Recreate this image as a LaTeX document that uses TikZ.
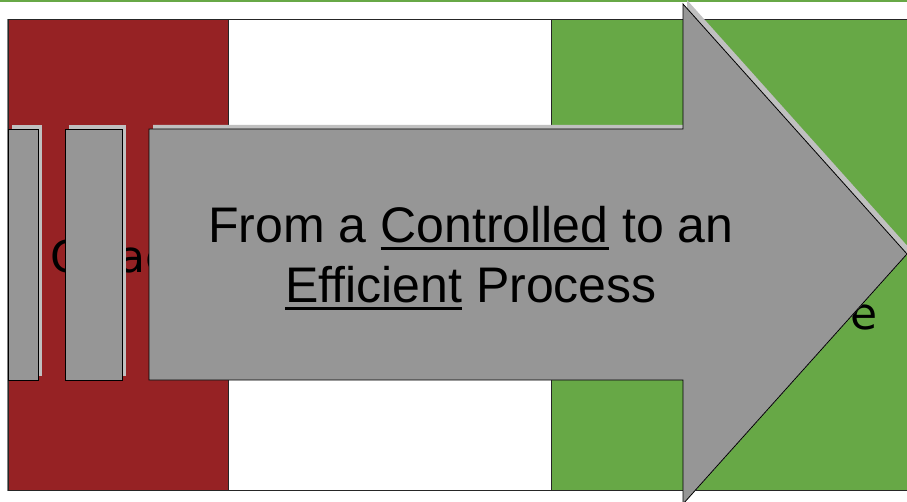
\documentclass[tikz,border=0pt]{standalone}
\usepackage{fontspec}
\setmainfont{Liberation Sans}
\newfontfamily\handfont{DejaVu Sans}
\definecolor{panelred}{HTML}{962224}
\definecolor{panelgreen}{HTML}{67A846}
\definecolor{blockgray}{HTML}{969696}
\definecolor{shadowgray}{HTML}{C0C0C0}
% underlined word with a thick rule
\newcommand{\ulword}[1]{\setbox0\hbox{#1}\rlap{\rule[-7pt]{\wd0}{3pt}}\box0\relax}

\begin{document}
\begin{tikzpicture}[x=1pt,y=-1pt,
    panel/.style={draw=black!85,line width=1pt},
    blockshape/.style={fill=blockgray,draw=black,line width=0.8pt},
    handtext/.style={font=\handfont\fontsize{44}{50}\selectfont,inner sep=0pt,anchor=base west}]
\useasboundingbox (0,0) rectangle (907,502);

% top rule and frame
\draw[panelgreen,line width=2pt] (0,1) -- (907,1);
\draw[black!50,line width=1.5pt] (8,20) rectangle (912,490);

\draw[panel,fill=panelred]   (8,20)   rectangle (228,490);
\draw[panel,fill=white]      (228,20) rectangle (551,490);
\draw[panel,fill=panelgreen] (551,20) rectangle (912,490);

% words behind the blocks
\node[handtext] (oldC)  at (50,273)  {C};
\node[handtext] (oldAc) at (118,273) {ac};
\node[handtext] (newE)  at (850,330) {e};

% shadows
\foreach \xa/\xb in {8/38,65/122}
    \fill[shadowgray] (\xa+4,125) rectangle (\xb+4,376);
\fill[shadowgray] (153,125) -- (687,125) -- (687,0) -- (911,250) -- (687,500) -- (687,376) -- (153,376) -- cycle;

% blocks and arrow
\foreach \xa/\xb in {8/38,65/122}
    \draw[blockshape] (\xa,129) rectangle (\xb,380);
\draw[blockshape] (149,129) -- (683,129) -- (683,4) -- (907,254) -- (683,504) -- (683,380) -- (149,380) -- cycle;

\node[font=\fontsize{50}{60}\selectfont,align=center] (motto) at (471,258)
    {From a \ulword{Controlled} to an\\ \ulword{Efficient} Process};
\end{tikzpicture}
\end{document}
